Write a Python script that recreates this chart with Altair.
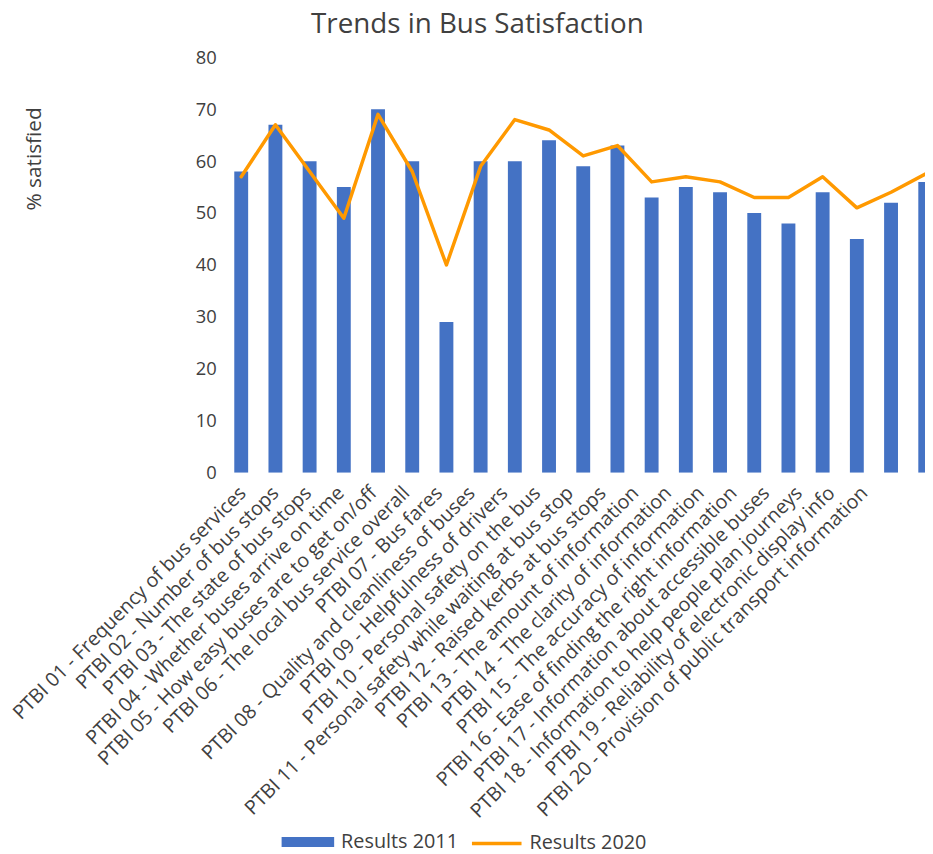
import altair as alt
import pandas as pd

categories = [
    "PTBI 01 - Frequency of bus services",
    "PTBI 02 - Number of bus stops",
    "PTBI 03 - The state of bus stops",
    "PTBI 04 - Whether buses arrive on time",
    "PTBI 05 - How easy buses are to get on/off",
    "PTBI 06 - The local bus service overall",
    "PTBI 07 - Bus fares",
    "PTBI 08 - Quality and cleanliness of buses",
    "PTBI 09 - Helpfulness of drivers",
    "PTBI 10 - Personal safety on the bus",
    "PTBI 11 - Personal safety while waiting at bus stop",
    "PTBI 12 - Raised kerbs at bus stops",
    "PTBI 13 - The amount of information",
    "PTBI 14 - The clarity of information",
    "PTBI 15 - The accuracy of information",
    "PTBI 16 - Ease of finding the right information",
    "PTBI 17 - Information about accessible buses",
    "PTBI 18 - Information to help people plan journeys",
    "PTBI 19 - Reliability of electronic display info",
    "PTBI 20 - Provision of public transport information",
    "PTBI 21",
]
results_2011 = [58, 67, 60, 55, 70, 60, 29, 60, 60, 64, 59, 63, 53, 55, 54, 50, 48, 54, 45, 52, 56]
results_2020 = [57, 67, 58, 49, 69, 58, 40, 59, 68, 66, 61, 63, 56, 57, 56, 53, 53, 57, 51, 54, 57.5]
y_ticks = [0, 10, 20, 30, 40, 50, 60, 70, 80]

df = pd.DataFrame({"category": categories, "r2011": results_2011, "r2020": results_2020})

FONT = "Open Sans"
TEXT = "#404040"

# scale used by the bars and the line
x_data = alt.X(
    "category:N",
    sort=categories,
    title=None,
    scale=alt.Scale(type="band", range=[0, 724.5], paddingInner=0, paddingOuter=0),
    axis=None,
)

# category axis (labels slightly tighter spaced, as in the reference)
x_labels = alt.X(
    "category:N",
    sort=categories,
    title=None,
    scale=alt.Scale(type="band", range=[-4.5, 688.5], paddingInner=0, paddingOuter=0),
    axis=alt.Axis(
        labelAngle=-45, labelFont=FONT, labelFontSize=19.8, labelColor=TEXT,
        labelLimit=1000, labelPadding=10, domain=False, ticks=False, grid=False,
        labelExpr="datum.label == 'PTBI 21' ? '' : datum.label",
    ),
)

y_axis = alt.Axis(
    values=y_ticks, title="% satisfied", grid=False, domain=False, ticks=False,
    labelFont=FONT, labelFontSize=18.5, labelColor=TEXT, labelPadding=8,
    titleFont=FONT, titleFontSize=21, titleColor=TEXT, titleFontWeight="normal",
    titleAngle=270, titleX=-191, titleY=102, titleAlign="center", titleBaseline="middle",
)
y_scale = alt.Scale(domain=[0, 80])

bars = alt.Chart(df).transform_calculate(series="'Results 2011'").mark_bar(size=14, clip=True).encode(
    x=x_data,
    y=alt.Y("r2011:Q", scale=y_scale, axis=y_axis),
    fill=alt.Fill(
        "series:N",
        scale=alt.Scale(domain=["Results 2011"], range=["#4472C4"]),
        legend=alt.Legend(
            title=None, orient="none", legendX=58, legendY=765,
            symbolType="M-1,-0.19H1V0.19H-1Z", symbolSize=2809, symbolStrokeWidth=0,
            symbolOpacity=1, labelFont=FONT, labelFontSize=20, labelColor=TEXT,
            labelOffset=7, padding=0,
        ),
    ),
)

line = alt.Chart(df).transform_calculate(series="'Results 2020'").mark_line(
    strokeWidth=3.5, strokeJoin="round", strokeCap="round", clip=True
).encode(
    x=x_data,
    y=alt.Y("r2020:Q", scale=y_scale, axis=y_axis),
    stroke=alt.Stroke(
        "series:N",
        scale=alt.Scale(domain=["Results 2020"], range=["#FF9900"]),
        legend=alt.Legend(
            title=None, orient="none", legendX=248, legendY=766,
            symbolType="stroke", symbolSize=2500, symbolStrokeWidth=3.5,
            labelFont=FONT, labelFontSize=20, labelColor=TEXT,
            labelOffset=6, padding=0,
        ),
    ),
)

axis_layer = alt.Chart(df).mark_point(opacity=0).encode(
    x=x_labels,
    y=alt.Y("r2011:Q", scale=y_scale, axis=y_axis),
)

chart = alt.layer(bars, line, axis_layer).resolve_scale(x="independent").resolve_legend(
    fill="independent", stroke="independent"
).properties(
    width=707,
    height=419,
    autosize=alt.AutoSizeParams(type="none"),
    padding={"left": 218, "top": 46, "right": 0, "bottom": 386},
    title=alt.TitleParams(
        "Trends in Bus Satisfaction", font=FONT, fontSize=28, color=TEXT,
        fontWeight="normal", anchor="middle", dx=-98, offset=9,
    ),
).configure_view(stroke=None)

chart.save("out.html", embed_options={"renderer": "svg", "actions": False})
